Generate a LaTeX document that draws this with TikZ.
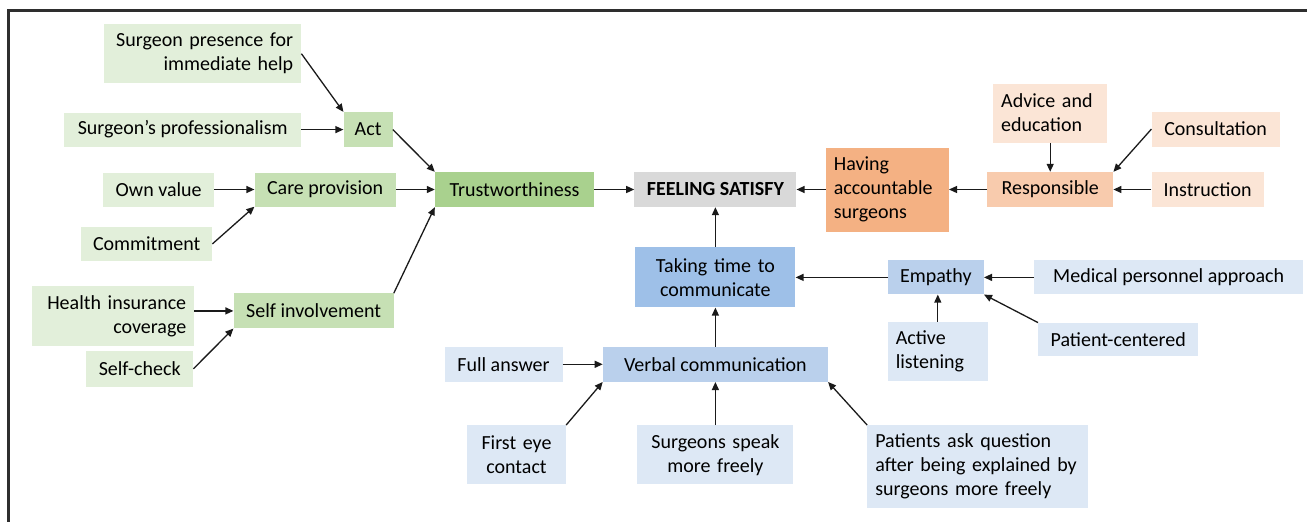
\documentclass[tikz,border=0pt]{standalone}
\usepackage{fontspec}
\setmainfont{Carlito}
\usepackage{tikz}
\usetikzlibrary{arrows.meta,positioning}
\definecolor{greenleaf}{HTML}{E2EFDA}
\definecolor{greenmid}{HTML}{C6E0B4}
\definecolor{greendark}{HTML}{A9D18E}
\definecolor{greycore}{HTML}{D9D9D9}
\definecolor{orangeleaf}{HTML}{FBE5D6}
\definecolor{orangemid}{HTML}{F8CBAD}
\definecolor{orangedark}{HTML}{F4B183}
\definecolor{blueleaf}{HTML}{DDE8F5}
\definecolor{bluemid}{HTML}{BAD0EC}
\definecolor{bluedark}{HTML}{9EC0E8}
\definecolor{framegrey}{HTML}{2E2E2E}
\definecolor{arrowgrey}{HTML}{1A1A1A}
\tikzset{
  basebox/.style={rectangle,inner xsep=8pt,inner ysep=3pt,align=center,font=\fontsize{20}{24}\selectfont,text=black},
  gleaf/.style={basebox,fill=greenleaf},
  gmid/.style={basebox,fill=greenmid},
  gdark/.style={basebox,fill=greendark},
  corebox/.style={basebox,fill=greycore,font=\fontsize{20}{24}\selectfont\bfseries},
  oleaf/.style={basebox,fill=orangeleaf},
  omid/.style={basebox,fill=orangemid},
  odark/.style={basebox,fill=orangedark},
  bleaf/.style={basebox,fill=blueleaf},
  bmid/.style={basebox,fill=bluemid},
  bdark/.style={basebox,fill=bluedark},
  arrow/.style={-{Triangle[length=8pt,width=7pt]},line width=1.3pt,draw=arrowgrey}
}
\begin{document}
\begin{tikzpicture}[x=1pt,y=-1pt]
  \useasboundingbox (0,0) rectangle (1307,522);
  \draw[line width=3pt,framegrey] (8.5,522) -- (8.5,10.5) -- (1307,10.5);

  % centre line
  \node[gdark, minimum width=159pt, minimum height=35pt] (trust) at (514.5,189.5) {Trustworthiness};
  \node[corebox, right=40pt of trust, minimum width=162pt, minimum height=35pt] (feel) {FEELING SATISFY};
  \node[odark, right=29pt of feel, text width=107pt, align=left, minimum height=84pt] (account) {Having\\accountable\\surgeons};
  \node[omid, right=38pt of account, minimum width=126pt, minimum height=35pt] (resp) {Responsible};
  \node[oleaf, above=29pt of resp, text width=98pt, align=left, minimum height=59pt] (advice) {Advice and\\education};
  \node[oleaf, right=38pt of resp, minimum width=112pt, minimum height=35pt] (instr) {Instruction};
  \node[oleaf, above right=25pt and 0pt of instr.north west, minimum width=128pt, minimum height=35pt] (consult) {Consultation};

  % trust side
  \node[gmid, left=39pt of trust, minimum width=141pt, minimum height=34pt] (care) {Care provision};
  \node[gleaf, left=40pt of care, minimum width=111pt, minimum height=34pt] (ownval) {Own value};
  \node[gleaf, below left=20pt and 2pt of ownval.south east, minimum width=131pt, minimum height=34pt] (commit) {Commitment};
  \node[gmid, above left=25pt and 3pt of care.north east, minimum width=49pt, minimum height=35pt] (act) {Act};
  \node[gleaf, left=42pt of act, minimum width=237pt, minimum height=34pt] (prof) {Surgeon’s professionalism};
  \node[gleaf, above left=29pt and 0pt of prof.north east, text width=181pt, align=right, minimum height=59pt] (presence) {Surgeon presence for\\immediate help};
  \node[gmid, below left=86pt and 41pt of trust.south west, minimum width=160pt, minimum height=35pt] (selfinv) {Self involvement};
  \node[gleaf, left=39pt of selfinv, yshift=-5pt, text width=146pt, align=right, minimum height=60pt] (health) {Health insurance\\coverage};
  \node[gleaf, below left=22pt and 40pt of selfinv.south west, minimum width=107pt, minimum height=36pt] (selfcheck) {Self-check};

  % communication side
  \node[bdark, below=40pt of feel, text width=144pt, minimum height=60pt] (taking) {Taking time to\\communicate};
  \node[bmid, right=92pt of taking, minimum width=96pt, minimum height=34pt] (empathy) {Empathy};
  \node[bleaf, right=50pt of empathy, minimum width=269pt, minimum height=34pt] (medical) {Medical personnel approach};
  \node[bleaf, below right=27pt and 0pt of empathy.south west, text width=84pt, align=left, minimum height=59pt] (active) {Active\\listening};
  \node[bleaf, below right=28pt and 4pt of medical.south west, minimum width=160pt, minimum height=33pt] (patient) {Patient-centered};
  \node[bmid, below=39pt of taking, minimum width=225pt, minimum height=35pt] (verbal) {Verbal communication};
  \node[bleaf, left=40pt of verbal, minimum width=118pt, minimum height=35pt] (full) {Full answer};
  \node[bleaf, below=43pt of verbal, text width=140pt, minimum height=59pt] (speak) {Surgeons speak\\more freely};
  \node[bleaf, left=71pt of speak, text width=83pt, minimum height=59pt] (eye) {First eye\\contact};
  \node[bleaf, below right=43pt and 39pt of verbal.south east, text width=205pt, align=left, minimum height=83pt] (patask) {Patients ask question\\after being explained by\\surgeons more freely};

  \draw[arrow] (presence.east) -- (act.north west);
  \draw[arrow] (prof) -- (act);
  \draw[arrow] (ownval) -- (care);
  \draw[arrow] (commit.east) -- (care.south west);
  \draw[arrow] (act.east) -- (trust.north west);
  \draw[arrow] (care) -- (trust);
  \draw[arrow] (health.east |- selfinv.west) -- (selfinv.west);
  \draw[arrow] (selfcheck.east) -- (selfinv.south west);
  \draw[arrow] (selfinv.north east) -- (trust.south west);
  \draw[arrow] (trust) -- (feel);
  \draw[arrow] (account) -- (feel);
  \draw[arrow] (resp) -- (account);
  \draw[arrow] (advice) -- (resp);
  \draw[arrow] (consult.west) -- (resp.north east);
  \draw[arrow] (instr) -- (resp);
  \draw[arrow] (taking) -- (feel);
  \draw[arrow] (empathy) -- (taking);
  \draw[arrow] (medical) -- (empathy);
  \draw[arrow] (active.north) -- (active.north |- empathy.south);
  \draw[arrow] (patient.north west) -- (empathy.south east);
  \draw[arrow] (verbal) -- (taking);
  \draw[arrow] (full) -- (verbal);
  \draw[arrow] (eye.north east) -- (verbal.south west);
  \draw[arrow] (speak) -- (verbal);
  \draw[arrow] (patask.north west) -- (verbal.south east);
\end{tikzpicture}
\end{document}
